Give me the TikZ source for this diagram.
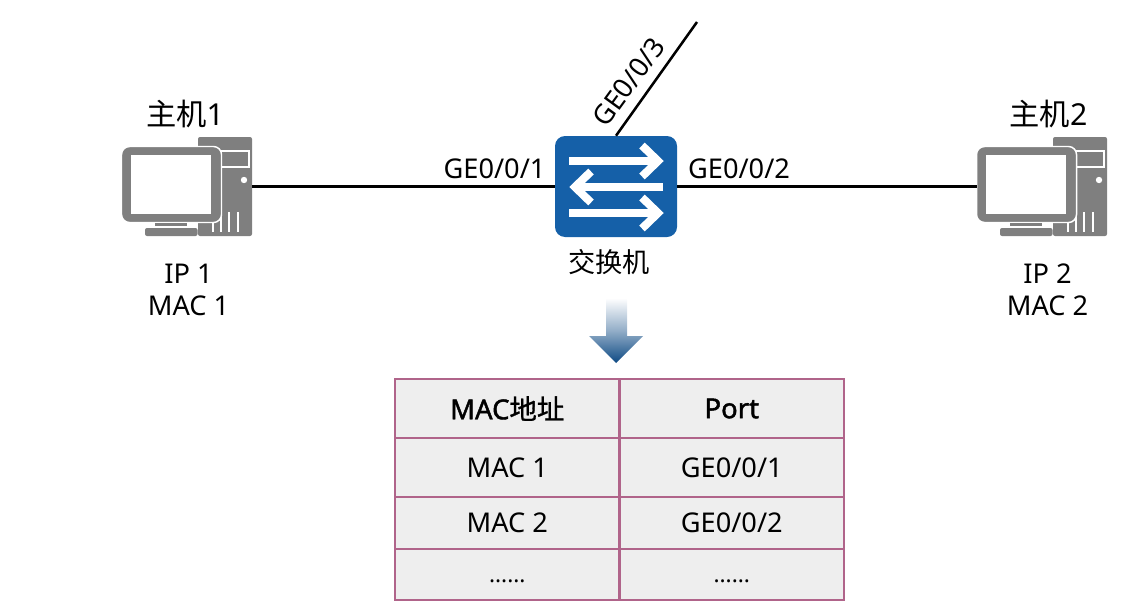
\documentclass[tikz,border=0pt]{standalone}
\usepackage{fontspec}
\setmainfont{Noto Sans}
\newfontfamily\cjk{Noto Sans CJK SC}
\newfontfamily\hdfont[FakeBold=1.6]{Noto Sans}
\newfontfamily\hdcjk[FakeBold=1.0]{Noto Sans CJK SC}
\definecolor{hostgray}{HTML}{7F7F7F}
\definecolor{swblue}{HTML}{1560A8}
\definecolor{tabborder}{HTML}{B0648A}
\definecolor{cellgray}{HTML}{EEEEEE}
\definecolor{arrowblue}{HTML}{0E4A84}
\tikzset{
  link/.style={line width=1.9pt,black,line cap=butt},
  lbl/.style={font=\fontsize{20.4}{23}\selectfont,text=black,inner sep=0pt},
  titlelbl/.style={font=\fontsize{22.7}{26}\selectfont,text=black,inner sep=0pt},
  hostbox/.style={minimum width=97.5pt,minimum height=74.25pt,inner sep=0pt},
  swbox/.style={fill=swblue,rounded corners=7.5pt,minimum width=91.5pt,minimum height=75.75pt,inner sep=0pt},
  swarrow/.style={white,line width=6pt,line cap=butt},
  swhead/.style={white,line width=6pt,line cap=butt,line join=miter},
  cell/.style={draw=tabborder,line width=1.6pt,fill=cellgray,minimum width=168.4pt,inner sep=0pt,
     font=\fontsize{20.4}{23}\selectfont,text=black},
  headcell/.style={cell,font=\fontsize{20.6}{23}\selectfont},
  pics/hosticon/.style={code={
    % tower
    \fill[hostgray,rounded corners=1.5pt] (11,-49.5) rectangle (65,49.5);
    \draw[white,line width=0.9pt] (20,-35.5) rectangle (62,-19.5);
    \fill[white] (57,-6.5) circle (2.4pt);
    \foreach \xx in {26,34,42,51}{\draw[white,line width=1.1pt] (\xx,25.5) -- (\xx,45.5);}
    % monitor
    \fill[hostgray,draw=white,line width=1.1pt,rounded corners=6pt] (-65.5,-40) rectangle (34.5,36);
    \fill[white] (-56,-31.5) rectangle (24,27.5);
    \fill[hostgray] (-32,36.5) rectangle (0,39.5);
    \fill[hostgray,rounded corners=1.5pt] (-42,41.5) rectangle (10.5,49.5);
  }}
}
\begin{document}
\begin{tikzpicture}[x=0.75pt,y=-0.75pt]
\useasboundingbox (0,0) rectangle (1137,614);
% hosts
\node[hostbox] (host1) at (187,186.5) {};
\node[hostbox] (host2) at (1042,186.5) {};
\pic at (host1.center) {hosticon};
\pic at (host2.center) {hosticon};
% switch
\node[swbox] (sw) at (616,186.5) {};
\coordinate (free) at (697,22);
\draw[link] (host1.east) -- (sw.west);
\draw[link] (sw.east) -- (host2.west);
\draw[link] (sw.north) -- (free);
% switch arrows
\draw[swarrow] (569,161) -- (658,161);
\draw[swhead] (642,145.5) -- (658,161) -- (642,176.5);
\draw[swarrow] (663,187) -- (575,187);
\draw[swhead] (591,171.5) -- (575,187) -- (591,202.5);
\draw[swarrow] (569,213) -- (658,213);
\draw[swhead] (642,197.5) -- (658,213) -- (642,228.5);
% labels
\node[titlelbl] (t1) at (185,113.5) {{\cjk 主机}1};
\node[titlelbl] (t2) at (1048.5,113.5) {{\cjk 主机}2};
\node[lbl] (ip1) at (188.5,273.5) {IP 1};
\node[lbl] (mac1) at (188.5,305.5) {MAC 1};
\node[lbl] (ip2) at (1047.5,273.5) {IP 2};
\node[lbl] (mac2) at (1047.5,305.5) {MAC 2};
\node[lbl] (p1) at (494.5,168.5) {GE0/0/1};
\node[lbl] (p2) at (739,168.5) {GE0/0/2};
\node[lbl,rotate=54] (p3) at (628.5,82) {GE0/0/3};
\node[lbl] (swl) at (609,262.5) {\cjk 交换机};
% down arrow
\path[top color=white,bottom color=arrowblue,middle color=arrowblue!45!white]
  (606,298) -- (627,298) -- (627,336) -- (643,336) -- (616,363) -- (589,336) -- (606,336) -- cycle;
% table
\node[headcell,minimum height=44.25pt] (c11) at (507.25,408.5) {{\hdfont MAC}{\hdcjk 地址}};
\node[headcell,minimum height=44.25pt] (c12) at (731.75,408.5) {\hdfont Port};
\node[cell,minimum height=44.25pt] (c21) at (507.25,467.5) {MAC 1};
\node[cell,minimum height=44.25pt] (c22) at (731.75,467.5) {GE0/0/1};
\node[cell,minimum height=39pt] (c31) at (507.25,523) {MAC 2};
\node[cell,minimum height=39pt] (c32) at (731.75,523) {GE0/0/2};
\node[cell,minimum height=38.25pt,font=\fontsize{17}{20}\selectfont] (c41) at (507.25,574.5) {......\vphantom{M}};
\node[cell,minimum height=38.25pt,font=\fontsize{17}{20}\selectfont] (c42) at (731.75,574.5) {......\vphantom{M}};
\end{tikzpicture}
\end{document}
